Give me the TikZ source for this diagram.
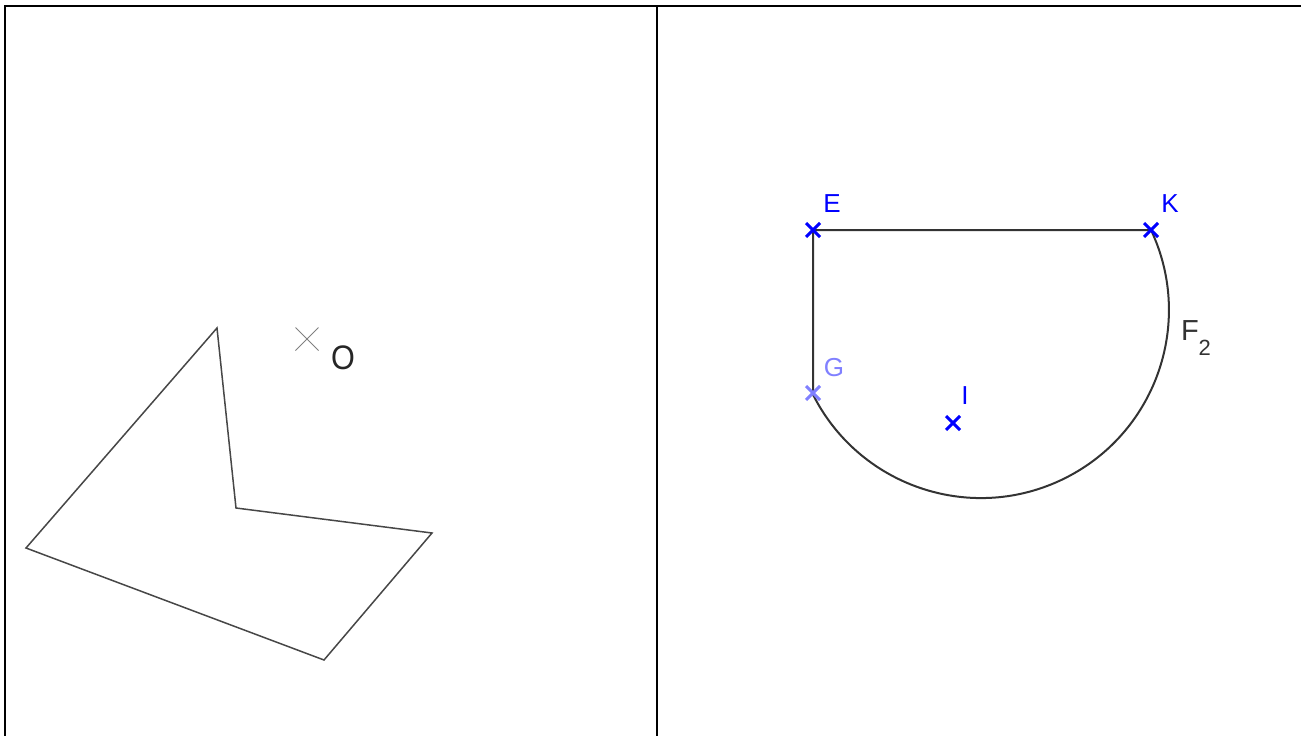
\documentclass[tikz,border=0pt]{standalone}
\usepackage{fontspec}
\setmainfont{Liberation Sans}
\usepackage{xcolor}
\usetikzlibrary{shapes.misc}
\definecolor{ptblue}{RGB}{0,0,255}
\definecolor{ptlight}{RGB}{128,128,255}
\definecolor{edgegray}{RGB}{51,51,51}

\begin{document}
\begin{tikzpicture}[
    x=1pt, y=-1pt,
    every node/.style={inner sep=0pt, outer sep=0pt},
    frame/.style={draw=black, line width=2pt},
    outline/.style={draw=edgegray!90, line width=1.5pt, line join=miter},
    edgeline/.style={draw=edgegray, line width=2pt},
    ptcross/.style={cross out, draw=ptblue, line width=3pt, minimum size=14pt},
    lbl/.style={font=\fontsize{26}{30}\selectfont, text=ptblue},
]
    \useasboundingbox (0,0) rectangle (1301,736);

    % Table frame
    \coordinate (tl) at (5,6);
    \coordinate (tr) at (1301,6);
    \coordinate (bl) at (5,736);
    \coordinate (mt) at (657,6);
    \coordinate (mb) at (657,736);
    \draw[frame] (bl) -- (tl) -- (tr);
    \draw[frame] (mt) -- (mb);

    % Left panel
    \coordinate (A) at (217,328);
    \coordinate (B) at (236,508);
    \coordinate (C) at (432,533);
    \coordinate (D) at (324,660);
    \coordinate (P) at (26,548);
    \draw[outline] (A) -- (B) -- (C) -- (D) -- (P) -- cycle;

    \node[cross out, draw=gray, line width=1pt, minimum size=23pt] (O) at (307,339) {};
    \node[font=\fontsize{34}{40}\selectfont, text=black!85, xscale=0.9] (olbl) at (343,358) {O};

    % Right panel
    \coordinate (E) at (813,230);
    \coordinate (K) at (1151,230);
    \coordinate (G) at (813,393);
    \coordinate (I) at (953,423);
    \draw[edgeline] (G) -- (E) -- (K) arc[start angle=-25.2, end angle=153.7, radius=188];

    \node[ptcross] (cE) at (E) {};
    \node[ptcross] (cK) at (K) {};
    \node[ptcross, draw=ptlight] (cG) at (G) {};
    \node[ptcross] (cI) at (I) {};

    \node[lbl] (elbl) at (832,204) {E};
    \node[lbl] (klbl) at (1170,204) {K};
    \node[lbl, text=ptlight] (glbl) at (834,368) {G};
    \node[lbl] (ilbl) at (965,396) {I};
    \node[anchor=base west, font=\fontsize{29}{32}\selectfont, text=edgegray] (f2) at (1181,340)
        {F\raisebox{-15pt}{\fontsize{22}{24}\selectfont 2}};
\end{tikzpicture}
\end{document}
